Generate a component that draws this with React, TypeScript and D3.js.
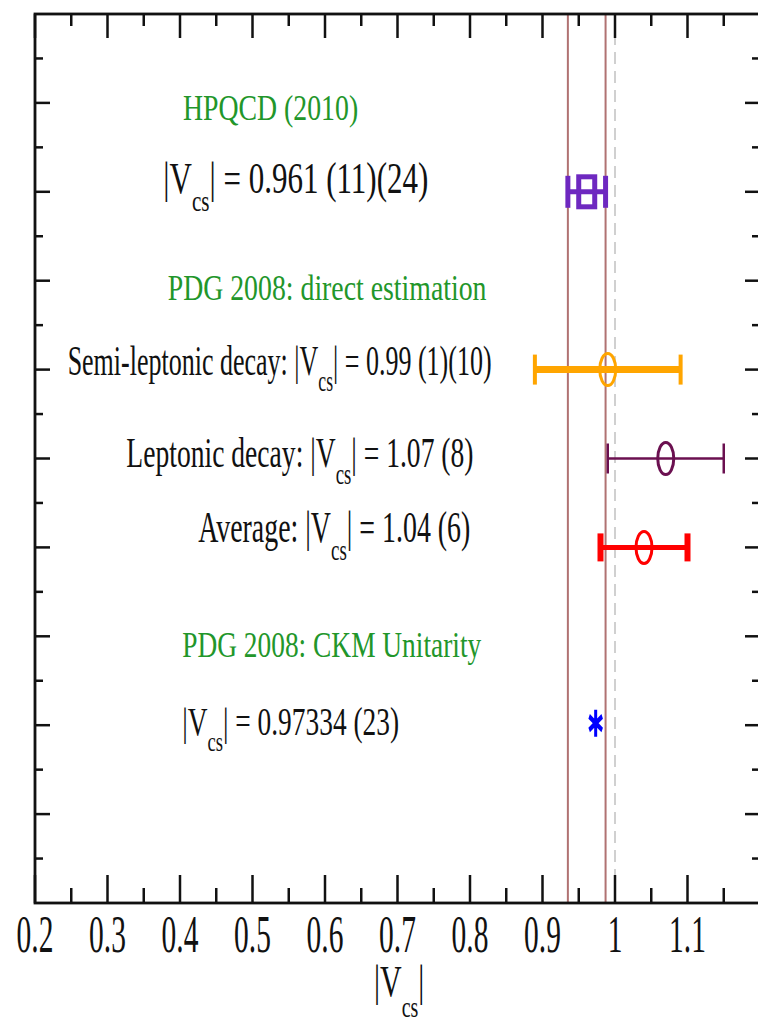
import React from "react";
import * as d3 from "d3";

// Measurements of |Vcs| with their total uncertainties
const measurementNames = ["HPQCD (2010)", "Semi-leptonic decay", "Leptonic decay", "Average", "CKM Unitarity"];
const centralValues = [0.961, 0.99, 1.07, 1.04, 0.97334];
const totalErrors = [0.026, 0.1005, 0.08, 0.06, 0.00023];
const rowPositions = [8, 6, 5, 4, 2];

// HPQCD band edges (central ± total error) and the unitarity reference
const bandEdges = [0.961 - 0.026, 0.961 + 0.026];
const referenceValue = 1.0;

// Annotation text: prefix, whether |Vcs| follows, suffix, row
const notePrefixes = ["HPQCD (2010)", "", "PDG 2008: direct estimation", "Semi-leptonic decay: ", "Leptonic decay: ", "Average: ", "PDG 2008: CKM Unitarity", ""];
const noteHasV = [false, true, false, true, true, true, false, true];
const noteSuffixes = ["", " = 0.961 (11)(24)", "", " = 0.99 (1)(10)", " = 1.07 (8)", " = 1.04 (6)", "", " = 0.97334 (23)"];
const noteRows = [9, 8, 7, 6, 5, 4, 3, 2];
const noteIsHeader = [true, false, true, false, false, false, true, false];

const xTickValues = [0.2, 0.3, 0.4, 0.5, 0.6, 0.7, 0.8, 0.9, 1.0, 1.1];

const W = 758;
const H = 1023;
const left = 35;
const right = 760;
const top = 14;
const bottom = 903;

const FONT = "'Liberation Serif', 'Times New Roman', serif";

// Annotation layout: start (in |Vcs| units), font size, vertical stretch, baseline offset from row
const noteLayout = [
  { start: 0.404, fs: 27.8, sy: 1.32, dy: 17 },
  { start: 0.377, fs: 31, sy: 1.43, dy: 1 },
  { start: 0.383, fs: 27.8, sy: 1.32, dy: 19 },
  { start: 0.245, fs: 26, sy: 1.62, dy: 5 },
  { start: 0.326, fs: 27.6, sy: 1.55, dy: 8 },
  { start: 0.425, fs: 27.9, sy: 1.55, dy: -5 },
  { start: 0.403, fs: 27.4, sy: 1.32, dy: 21 },
  { start: 0.403, fs: 27.4, sy: 1.46, dy: 10 },
];

const TICK_FS = 29.5;
const TICK_SY = 1.8;

const markerStyles = [
  { color: "#6e28c0", lineW: 5, capW: 5, capH: 32, kind: "square" },
  { color: "#ffa500", lineW: 7, capW: 4, capH: 30, kind: "circle" },
  { color: "#6b1050", lineW: 2.5, capW: 2.5, capH: 30, kind: "circle" },
  { color: "#ff0000", lineW: 5, capW: 6, capH: 28, kind: "circle" },
  { color: "#0000ff", lineW: 2, capW: 2, capH: 6, kind: "star" },
];

function VLabel({ x, y, prefix, suffix, fs, sy, color, anchor }: any) {
  return (
    <text
      transform={`translate(${x},${y}) scale(1,${sy})`}
      fontFamily={FONT}
      fontSize={fs}
      fill={color}
      textAnchor={anchor || "start"}
    >
      {prefix}
      <tspan>|V</tspan>
      <tspan fontSize={fs * 0.68} dy={fs * 0.4}>cs</tspan>
      <tspan dy={-fs * 0.4}>|{suffix}</tspan>
    </text>
  );
}

export default function App() {
  const x = d3.scaleLinear().domain([0.2, 1.2]).range([left, right]);
  const y = d3.scaleLinear().domain([0, 10]).range([bottom, top]);

  const xMajor = d3.range(0.2, 1.21, 0.1);
  const xMinor = d3.range(0.25, 1.2, 0.1);
  const yMajor = d3.range(1, 10, 1);
  const yMinor = d3.range(0.5, 10, 1);

  const star = d3.symbol().type(d3.symbolAsterisk).size(160)();

  return (
    <svg
      width={W}
      height={H}
      style={{ position: "absolute", left: 0, top: 0, background: "#fff" }}
    >
      <rect x={0} y={0} width={W} height={H} fill="#fff" />

      {/* HPQCD band and reference line */}
      {bandEdges.map((v, i) => (
        <line key={"b" + i} x1={x(v)} x2={x(v)} y1={top} y2={bottom} stroke="#b07272" strokeWidth={2} />
      ))}
      <line x1={x(referenceValue)} x2={x(referenceValue)} y1={top} y2={bottom} stroke="#d0d0d0" strokeWidth={2} strokeDasharray="12,7" />

      {/* Error bars and markers */}
      {centralValues.map((v, i) => {
        const s = markerStyles[i];
        const cy = y(rowPositions[i]);
        const x0 = x(v - totalErrors[i]);
        const x1 = x(v + totalErrors[i]);
        const cx = x(v);
        return (
          <g key={measurementNames[i]}>
            <line x1={x0} x2={x1} y1={cy} y2={cy} stroke={s.color} strokeWidth={s.lineW} />
            {s.kind !== "star" && (
              <>
                <line x1={x0} x2={x0} y1={cy - s.capH / 2} y2={cy + s.capH / 2} stroke={s.color} strokeWidth={s.capW} />
                <line x1={x1} x2={x1} y1={cy - s.capH / 2} y2={cy + s.capH / 2} stroke={s.color} strokeWidth={s.capW} />
              </>
            )}
            {s.kind === "square" && (
              <rect x={cx - 8} y={cy - 15} width={16} height={30} fill="none" stroke={s.color} strokeWidth={5} />
            )}
            {s.kind === "circle" && (
              <ellipse cx={cx} cy={cy} rx={8} ry={16} fill="none" stroke={s.color} strokeWidth={3} />
            )}
            {s.kind === "star" && (
              <path d={star as string} transform={`translate(${cx},${cy - 2}) scale(1,1.8)`} fill="none" stroke={s.color} strokeWidth={3} />
            )}
          </g>
        );
      })}

      {/* Annotations */}
      {notePrefixes.map((p, i) => {
        const L = noteLayout[i];
        const tx = x(L.start);
        const color = noteIsHeader[i] ? "#22962a" : "#111";
        const ty = y(noteRows[i]) + L.dy;
        if (noteHasV[i]) {
          return <VLabel key={"n" + i} x={tx} y={ty} prefix={p} suffix={noteSuffixes[i]} fs={L.fs} sy={L.sy} color={color} />;
        }
        return (
          <text key={"n" + i} transform={`translate(${tx},${ty}) scale(1,${L.sy})`} fontFamily={FONT} fontSize={L.fs} fill={color}>
            {p}
          </text>
        );
      })}

      {/* Frame ticks */}
      <g stroke="#111" strokeWidth={2.5}>
        {xMajor.map((v) => (
          <g key={"xm" + v}>
            <line x1={x(v)} x2={x(v)} y1={bottom} y2={bottom - 28} />
            <line x1={x(v)} x2={x(v)} y1={top} y2={top + 24} />
          </g>
        ))}
        {xMinor.map((v) => (
          <g key={"xn" + v}>
            <line x1={x(v)} x2={x(v)} y1={bottom} y2={bottom - 15} />
            <line x1={x(v)} x2={x(v)} y1={top} y2={top + 12} />
          </g>
        ))}
        {yMajor.map((v) => (
          <g key={"ym" + v}>
            <line x1={left} x2={left + 15} y1={y(v)} y2={y(v)} />
            <line x1={right} x2={right - 15} y1={y(v)} y2={y(v)} />
          </g>
        ))}
        {yMinor.map((v) => (
          <g key={"yn" + v}>
            <line x1={left} x2={left + 8} y1={y(v)} y2={y(v)} />
            <line x1={right} x2={right - 8} y1={y(v)} y2={y(v)} />
          </g>
        ))}
      </g>
      <rect x={left} y={top} width={right - left} height={bottom - top} fill="none" stroke="#111" strokeWidth={2.8} />

      {/* X tick labels */}
      {xTickValues.map((v) => (
        <text
          key={"xl" + v}
          transform={`translate(${x(v)},952) scale(1,${TICK_SY})`}
          textAnchor="middle"
          fontFamily={FONT}
          fontSize={TICK_FS}
          fill="#111"
        >
          {d3.format("~g")(v)}
        </text>
      ))}

      {/* X axis title */}
      <text transform="translate(374,996) scale(1,1.5)" fontFamily={FONT} fontSize={30} fill="#111">
        <tspan>|V</tspan>
        <tspan fontSize={20} dy={14}>cs</tspan>
        <tspan dy={-14}>|</tspan>
      </text>
    </svg>
  );
}
